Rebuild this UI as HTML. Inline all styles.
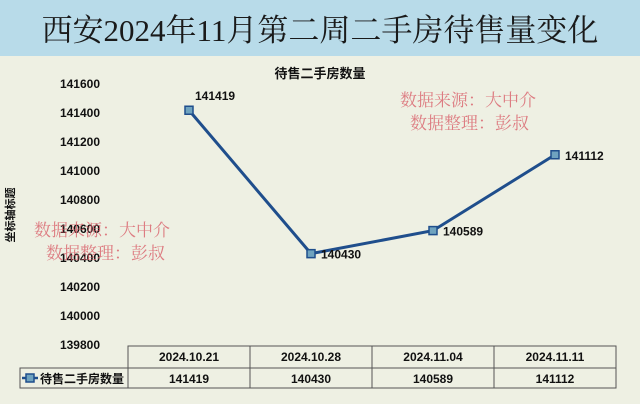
<!DOCTYPE html>
<html><head><meta charset="utf-8">
<style>
body{margin:0;width:640px;height:409px;overflow:hidden;background:#fff;font-family:"Liberation Sans","Noto Sans CJK SC",sans-serif}
</style></head>
<body>
<svg id="c" width="640" height="409" viewBox="0 0 640 409">
<rect x="0" y="0" width="640" height="56" fill="#b8dbe9"/>
<rect x="0" y="56" width="640" height="348" fill="#eef0e3"/>
<text x="320" y="41" text-anchor="middle" font-family="'Liberation Serif','Noto Serif CJK SC',serif" font-size="31" fill="#1a1a1a">西安2024年11月第二周二手房待售量变化</text>
<text x="320" y="78" text-anchor="middle" font-size="13" font-weight="bold" fill="#111">待售二手房数量</text>
<text transform="translate(14,215) rotate(-90)" text-anchor="middle" font-size="11" font-weight="bold" fill="#111">坐标轴标题</text>
<g id="ticks"></g>
<g id="marks"></g>
<g id="table"></g>
<g font-family="'Noto Serif CJK SC',serif" font-size="17" fill="#d9606a" opacity="0.8">
<text x="400" y="106">数据来源：大中介</text>
<text x="410" y="129">数据整理：彭叔</text>
<text x="34" y="236">数据来源：大中介</text>
<text x="46" y="259">数据整理：彭叔</text>
</g>
</svg>
<script>
const categories=["2024.10.21","2024.10.28","2024.11.04","2024.11.11"];
const values=[141419,140430,140589,141112];
const yTicks=[141600,141400,141200,141000,140800,140600,140400,140200,140000,139800];
const seriesName="待售二手房数量";
const NS="http://www.w3.org/2000/svg";
const yMin=139800,yMax=141600,yTop=84,yBot=345;
const tX0=128,tX1=616,colW=(tX1-tX0)/categories.length;
function y(v){return yBot-(v-yMin)/(yMax-yMin)*(yBot-yTop);}
function x(i){return tX0+colW*(i+0.5);}
function mk(tag,a,p){const e=document.createElementNS(NS,tag);for(const k in a)e.setAttribute(k,a[k]);p.appendChild(e);return e;}
const tg=document.getElementById('ticks');
yTicks.forEach(t=>{const e=mk('text',{x:100,y:y(t)+4,'text-anchor':'end','font-size':'12','font-weight':'bold',fill:'#111'},tg);e.textContent=t;

});
const mg=document.getElementById('marks');
const pts=values.map((v,i)=>x(i)+','+y(v)).join(' ');
const pl=mk('polyline',{points:pts,fill:'none',stroke:'#1f4e8c','stroke-width':3},mg);


values.forEach((v,i)=>{
const r=mk('rect',{x:x(i)-4,y:y(v)-4,width:8,height:8,fill:'#6fa3bf',stroke:'#1f4e8c','stroke-width':1.5},mg);


const lx=x(i)+(i===0?6:10),ly=y(v)+(i===0?-10:5);
const t=mk('text',{x:lx,y:ly,'font-size':'12','font-weight':'bold',fill:'#111'},mg);t.textContent=v;

});
const tb=document.getElementById('table');
const r1=346,r2=368,r3=388;
const st={fill:'none',stroke:'#555','stroke-width':1};
mk('rect',Object.assign({x:tX0,y:r1,width:tX1-tX0,height:r3-r1},st),tb);
mk('rect',Object.assign({x:20,y:r2,width:tX0-20,height:r3-r2},st),tb);
mk('line',Object.assign({x1:tX0,y1:r2,x2:tX1,y2:r2},st),tb);
for(let i=1;i<categories.length;i++)mk('line',Object.assign({x1:tX0+colW*i,y1:r1,x2:tX0+colW*i,y2:r3},st),tb);
categories.forEach((c,i)=>{
const t=mk('text',{x:x(i),y:r1+15,'text-anchor':'middle','font-size':'12','font-weight':'bold',fill:'#111'},tb);t.textContent=c;


const t2=mk('text',{x:x(i),y:r2+15,'text-anchor':'middle','font-size':'12','font-weight':'bold',fill:'#111'},tb);t2.textContent=values[i];

});
mk('line',{x1:22,y1:r2+10,x2:38,y2:r2+10,stroke:'#1f4e8c','stroke-width':2.5},tb);
mk('rect',{x:26,y:r2+6,width:8,height:8,fill:'#6fa3bf',stroke:'#1f4e8c','stroke-width':1.5},tb);
const lg=mk('text',{x:40,y:r2+15,'font-size':'12','font-weight':'bold',fill:'#111'},tb);lg.textContent=seriesName;


</script>
</body></html>
